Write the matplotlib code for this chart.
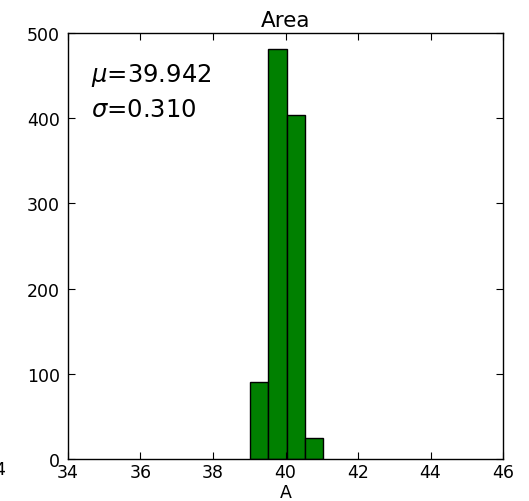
import matplotlib
matplotlib.use('Agg')
import matplotlib.pyplot as plt

# histogram of A (bin edges and counts)
BIN_EDGES = [39.03, 39.53, 40.03, 40.53, 41.03]
COUNTS = [90, 481, 404, 25]
MEAN = 39.942
STD = 0.310

fig = plt.figure(figsize=(5.29, 5.02), dpi=100)
ax = fig.add_axes([0.1285, 0.0837, 0.8225, 0.8483])

ax.hist(BIN_EDGES[:-1], bins=BIN_EDGES, weights=COUNTS,
        color='green', edgecolor='black', linewidth=1.0)

ax.set_xlim(34, 46)
ax.set_ylim(0, 500)
ax.set_xticks(range(34, 47, 2))
ax.set_yticks(range(0, 501, 100))
ax.tick_params(direction='in', top=True, right=True, labelsize=12.5, length=5)
ax.tick_params(axis='x', pad=3)
ax.tick_params(axis='y', pad=6)
for s in ax.spines.values():
    s.set_linewidth(1.0)

ax.set_title('Area', fontsize=15.5, pad=5)
ax.set_xlabel('A', fontsize=12.5, labelpad=1)

ax.text(0.052, 0.904, r'$\mu$=%.3f' % MEAN, transform=ax.transAxes,
        fontsize=17.5, va='center', ha='left')
ax.text(0.052, 0.822, r'$\sigma$=%.3f' % STD, transform=ax.transAxes,
        fontsize=17.5, va='center', ha='left')

# tick label of a neighbouring panel, cut off at the left edge
fig.text(7 / 529, 1 - 470 / 502, '34', fontsize=12.5, ha='right', va='center')

fig.savefig('out.png', dpi=100, facecolor='white')
